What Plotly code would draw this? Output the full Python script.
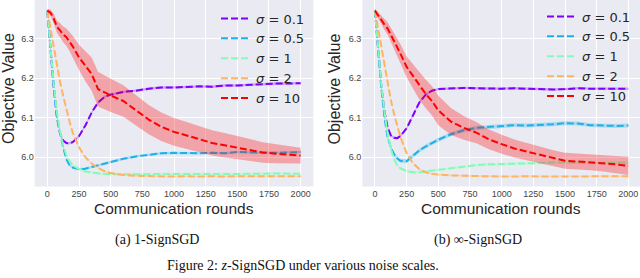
import plotly.graph_objects as go

rounds = [0, 25, 50, 75, 100, 125, 150, 175, 200, 250, 300, 350, 400, 450, 500,
          600, 700, 800, 900, 1000, 1100, 1200, 1300, 1400, 1500, 1600, 1700, 1800, 1900, 2000]

sigma_labels = ["0.1", "0.5", "1", "2", "10"]
colors = ["#8000ff", "#1ab2ea", "#80ffb4", "#ffb462", "#ff0000"]
fills = ["rgba(128,0,255,0.3)", "rgba(26,178,234,0.3)", "rgba(128,255,180,0.3)",
         "rgba(255,180,98,0.3)", "rgba(255,0,0,0.3)"]

# (a) 1-SignSGD
a_s01 = [6.370, 6.270, 6.180, 6.105, 6.060, 6.042, 6.036, 6.035, 6.038, 6.053, 6.080, 6.113, 6.138, 6.152, 6.158,
         6.165, 6.168, 6.173, 6.176, 6.176, 6.177, 6.179, 6.178, 6.181, 6.181, 6.183, 6.184, 6.186, 6.186, 6.187]
a_s05 = [6.370, 6.265, 6.175, 6.100, 6.058, 6.025, 5.995, 5.980, 5.974, 5.970, 5.971, 5.975, 5.980, 5.984, 5.988,
         5.996, 6.002, 6.006, 6.010, 6.011, 6.010, 6.010, 6.011, 6.010, 6.013, 6.012, 6.011, 6.011, 6.012, 6.013]
a_s1 = [6.370, 6.270, 6.185, 6.115, 6.065, 6.030, 6.005, 5.990, 5.980, 5.970, 5.964, 5.961, 5.959, 5.958, 5.957,
        5.957, 5.957, 5.958, 5.957, 5.957, 5.958, 5.958, 5.957, 5.958, 5.958, 5.958, 5.958, 5.959, 5.959, 5.958]
a_s2 = [6.370, 6.325, 6.275, 6.230, 6.190, 6.155, 6.120, 6.090, 6.062, 6.025, 6.000, 5.984, 5.973, 5.965, 5.960,
        5.955, 5.953, 5.952, 5.952, 5.951, 5.952, 5.951, 5.952, 5.951, 5.952, 5.952, 5.951, 5.952, 5.952, 5.952]
a_s10 = [6.370, 6.365, 6.350, 6.330, 6.320, 6.310, 6.303, 6.292, 6.280, 6.252, 6.230, 6.210, 6.172, 6.163, 6.156,
         6.142, 6.118, 6.095, 6.077, 6.064, 6.055, 6.045, 6.036, 6.030, 6.024, 6.018, 6.012, 6.009, 6.006, 6.004]
a_err = [
    [0.003] * 30,
    [0.003] * 30,
    [0.003] * 30,
    [0.002] * 30,
    [0.004, 0.008, 0.012, 0.015, 0.018, 0.020, 0.022, 0.024, 0.027, 0.032, 0.038, 0.042, 0.044, 0.043, 0.042,
     0.040, 0.038, 0.037, 0.036, 0.035, 0.034, 0.033, 0.032, 0.031, 0.030, 0.028, 0.026, 0.024, 0.022, 0.020],
]

# (b) inf-SignSGD
b_s01 = [6.370, 6.270, 6.180, 6.115, 6.075, 6.055, 6.049, 6.048, 6.053, 6.073, 6.105, 6.138, 6.158, 6.168, 6.172,
         6.174, 6.175, 6.174, 6.173, 6.173, 6.174, 6.173, 6.172, 6.171, 6.172, 6.174, 6.173, 6.173, 6.173, 6.173]
b_s05 = [6.370, 6.265, 6.175, 6.100, 6.050, 6.025, 6.008, 5.997, 5.991, 5.990, 6.004, 6.017, 6.027, 6.036, 6.044,
         6.058, 6.068, 6.074, 6.076, 6.079, 6.081, 6.080, 6.081, 6.083, 6.086, 6.085, 6.081, 6.080, 6.079, 6.080]
b_s1 = [6.370, 6.270, 6.185, 6.115, 6.060, 6.022, 5.995, 5.980, 5.972, 5.965, 5.962, 5.962, 5.964, 5.966, 5.968,
        5.973, 5.977, 5.980, 5.982, 5.983, 5.984, 5.985, 5.986, 5.986, 5.987, 5.986, 5.985, 5.986, 5.986, 5.986]
b_s2 = [6.370, 6.325, 6.275, 6.230, 6.185, 6.145, 6.110, 6.080, 6.052, 6.010, 5.985, 5.970, 5.962, 5.958, 5.956,
        5.954, 5.953, 5.952, 5.951, 5.951, 5.951, 5.952, 5.951, 5.951, 5.952, 5.952, 5.951, 5.952, 5.952, 5.952]
b_s10 = [6.370, 6.358, 6.345, 6.335, 6.325, 6.310, 6.293, 6.277, 6.262, 6.228, 6.205, 6.180, 6.160, 6.142, 6.118,
         6.090, 6.074, 6.062, 6.045, 6.033, 6.022, 6.014, 6.006, 5.998, 5.991, 5.989, 5.987, 5.985, 5.982, 5.978]
b_err = [
    [0.003] * 30,
    [0.005] * 30,
    [0.003] * 30,
    [0.002] * 30,
    [0.005, 0.008, 0.011, 0.014, 0.016, 0.018, 0.020, 0.022, 0.024, 0.026, 0.030, 0.034, 0.036, 0.037, 0.037,
     0.034, 0.030, 0.027, 0.025, 0.024, 0.023, 0.022, 0.021, 0.020, 0.020, 0.020, 0.020, 0.021, 0.022, 0.023],
]

x_ticks = [0, 250, 500, 750, 1000, 1250, 1500, 1750, 2000]
y_ticks = [6.0, 6.1, 6.2, 6.3]
y_ticktext = ["6.0", "6.1", "6.2", "6.3"]

W, H = 640, 278
fig = go.Figure()


def add_panel(series, errs, xa, ya, legend):
    for i, ys in enumerate(series):
        up = [v + e for v, e in zip(ys, errs[i])]
        lo = [v - e for v, e in zip(ys, errs[i])]
        fig.add_trace(go.Scatter(
            x=rounds + rounds[::-1], y=up + lo[::-1], fill="toself",
            fillcolor=fills[i], line=dict(width=0), mode="lines",
            hoverinfo="skip", showlegend=False, xaxis=xa, yaxis=ya))
        fig.add_trace(go.Scatter(
            x=rounds, y=ys, mode="lines",
            line=dict(color=colors[i], width=2, dash="7px,3px"),
            name="<i>σ</i> = " + sigma_labels[i], legend=legend,
            xaxis=xa, yaxis=ya))


add_panel([a_s01, a_s05, a_s1, a_s2, a_s10], a_err, "x", "y", "legend")
add_panel([b_s01, b_s05, b_s1, b_s2, b_s10], b_err, "x2", "y2", "legend2")

ybot = 1 - 186.5 / H
ytop = 1.0
axis_common = dict(showgrid=True, gridcolor="white", gridwidth=1, zeroline=False,
                   showline=False, ticks="", tickfont=dict(size=9, color="#444",
                   family="Liberation Sans, Arial, sans-serif"))

xaxis = dict(axis_common, domain=[34.7 / W, 313.3 / W], range=[-100, 2100],
             tickvals=x_ticks, anchor="y")
xaxis2 = dict(axis_common, domain=[362.3 / W, 1.0], range=[-100, 2092],
              tickvals=x_ticks, anchor="y2")
yaxis = dict(axis_common, domain=[ybot, ytop], range=[5.926, 6.397],
             tickvals=y_ticks, ticktext=y_ticktext, anchor="x")
yaxis2 = dict(axis_common, domain=[ybot, ytop], range=[5.926, 6.397],
              tickvals=y_ticks, ticktext=y_ticktext, anchor="x2")

legend_common = dict(bgcolor="rgba(0,0,0,0)", borderwidth=0, xanchor="left", yanchor="top",
                     font=dict(size=13, color="#262626", family="DejaVu Sans, sans-serif"),
                     itemwidth=30, tracegroupgap=0)

title_font = dict(family="Liberation Sans, Arial, sans-serif", size=16, color="#262626")
cap_font = dict(family="Liberation Serif, Times New Roman, serif", size=14, color="#111")

annotations = [
    dict(text="Objective Value", x=8 / W, y=1 - 89 / H, textangle=-90, font=title_font),
    dict(text="Objective Value", x=333.5 / W, y=1 - 89 / H, textangle=-90, font=title_font),
    dict(text="Communication rounds", x=174 / W, y=1 - 208 / H, font=dict(title_font, size=15.5)),
    dict(text="Communication rounds", x=501 / W, y=1 - 208 / H, font=dict(title_font, size=15.5)),
    dict(text="(a) 1-SignSGD", x=156.7 / W, y=1 - 240 / H, font=cap_font),
    dict(text="(b) ∞-SignSGD", x=478 / W, y=1 - 240 / H, font=cap_font),
    dict(text="Figure 2: <i>z</i>-SignSGD under various noise scales.", x=303 / W, y=1 - 265.7 / H,
         font=cap_font),
]
for a in annotations:
    a.update(xref="paper", yref="paper", showarrow=False, xanchor="center", yanchor="middle")

fig.update_layout(
    width=W, height=H, margin=dict(l=0, r=0, t=0, b=0),
    paper_bgcolor="white", plot_bgcolor="#EAEAF2",
    xaxis=xaxis, xaxis2=xaxis2, yaxis=yaxis, yaxis2=yaxis2,
    legend=dict(legend_common, x=216 / W, y=1 - 3.5 / H),
    legend2=dict(legend_common, x=542 / W, y=1 - 1.5 / H),
    annotations=annotations,
    showlegend=True,
)

fig.write_html("out.html",
               config={"displayModeBar": False},
               post_script="document.body.style.margin='0px';document.body.style.overflow='hidden';")
